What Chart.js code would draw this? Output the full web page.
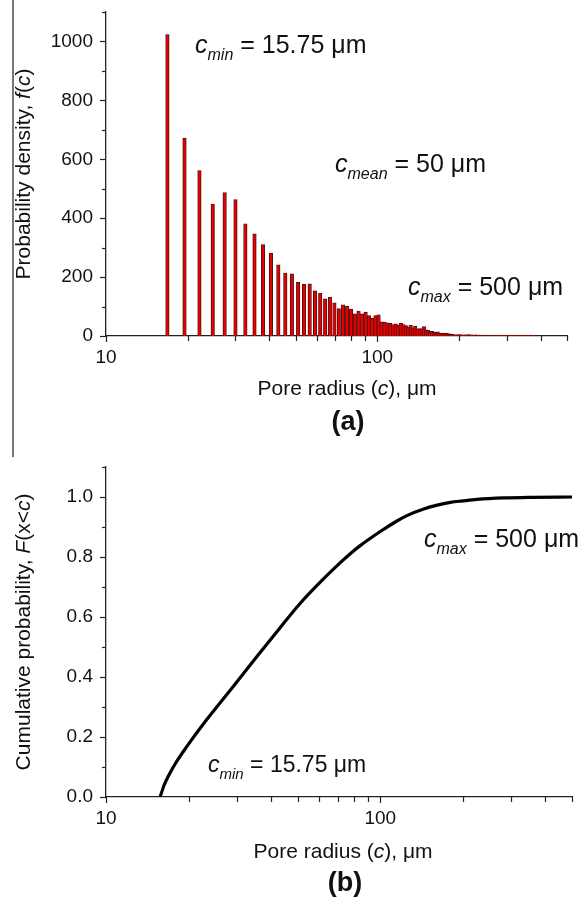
<!DOCTYPE html>
<html><head><meta charset="utf-8">
<script src="https://cdn.jsdelivr.net/npm/chart.js@4.4.0/dist/chart.umd.min.js"></script>
<style>
html,body{margin:0;padding:0;background:#fff;}
#wrap{position:relative;width:582px;height:903px;overflow:hidden;background:#fff;}
#c1{position:absolute;left:0;top:0;}
#c2{position:absolute;left:0;top:460px;}
#sep{position:absolute;left:12px;top:0;width:1.5px;height:457px;background:#777;}
</style></head><body>
<div id="wrap"><div id="sep"></div>
<canvas id="c1" width="582" height="460"></canvas>
<canvas id="c2" width="582" height="443"></canvas></div>
<script>
// ---- data ----
const poreRadius = [16.84,19.47,22.10,24.74,27.37,30.00,32.63,35.26,37.90,40.53,43.16,45.79,48.42,
 51.06,53.69,56.32,58.95,61.58,64.22,66.85,69.48,72.11,74.74,77.38,80.01,82.64,85.27,87.90,90.54,93.17,95.80,98.43,101.06,
 103.70,106.33,108.96,111.59,114.22,116.86,119.49,122.12,124.75,127.38,130.02,132.65,135.28,137.91,140.54,143.18,145.81,148.44,
 151.07,153.70,156.34,158.97,161.60,164.23,166.86,169.50,172.13,174.76,177.39,180.02,182.66,185.29,187.92,190.55,193.18,195.82,
 198.4,201.1,203.7,206.3,209.0,211.6,214.2,216.9,219.5,222.1,224.8,227.4,230.0,232.7,235.3,237.9,240.6,243.2,245.8,248.5,
 251.1,253.7,256.4,259.0,261.6,264.3,266.9,269.6,272.2,274.8,277.4,280.1,282.7,285.3,288.0,290.6,293.2,295.9,298.5,301.1,
 303.8,306.4,309.1,311.7,314.3,317.0,319.6,322.2,324.9,327.5,330.1,332.8,335.4,338.0,340.7,343.3,345.9,348.6,351.2,353.8,
 356.5,359.1,361.7,364.4,367.0,369.6,372.3,374.9,377.5,380.2,382.8];
const density = [1023,672,562,448,487,463,381,347,310,281,242,214,211,
 182,176,177,153,145,126,132,113,93,106,102,91,75,85,75,81,69,60,69,72,
 48,47,45,43,39,41,36,43,39,35,30,36,28,33,24,25,24,32,21,19,15,16,13,11,14,10,9,10,8,9,7,7,6,5,4,4,
 4,5,4,3,4,4,3,5,3,4,2,3,4,3,2,3,3,2,2,3,2,2,3,2,0,2,2,3,2,0,2,
 3,0,2,2,0,3,0,2,0,0,3,0,2,0,0,3,0,0,2,0,0,0,3,0,0,0,2,0,0,0,0,3,0,0,0,0,0,2,0,0];

const cdfRadius = [15.75,16.3,17.0,18.0,19.7,23.3,29.2,35.5,43.2,51.0,60.4,71.5,77.7,84.5,100,115,125,144,160,180,200,225,282,355,500];
const cdfValue  = [0,0.04,0.075,0.115,0.168,0.258,0.37,0.468,0.565,0.645,0.716,0.781,0.811,0.838,0.885,0.92,0.938,0.96,0.972,0.982,0.987,0.992,0.997,0.999,1.0];

const xTickValues = [10,20,30,40,50,60,70,80,90,100,200,300,400,500];
const xTickLabels = {10:'10',100:'100'};
const densityTicks = [0,100,200,300,400,500,600,700,800,900,1000,1100];
const densityLabels = {0:'0',200:'200',400:'400',600:'600',800:'800',1000:'1000'};
const cdfTicks = [0,0.1,0.2,0.3,0.4,0.5,0.6,0.7,0.8,0.9,1.0,1.1];
const cdfLabels = {0:'0.0',0.2:'0.2',0.4:'0.4',0.6:'0.6',0.8:'0.8',1:'1.0'};

// ---- helpers ----
const FAM = '"Liberation Sans", Arial, sans-serif';
const AX = '#222';
function rich(ctx, x, y, segs, align){
  let w = 0;
  segs.forEach(s=>{ ctx.font = (s.it?'italic ':'')+(s.b?'bold ':'')+s.sz+'px '+FAM; s._w = ctx.measureText(s.t).width; w += s._w; });
  let cx = align==='center' ? x - w/2 : x;
  segs.forEach(s=>{ ctx.font = (s.it?'italic ':'')+(s.b?'bold ':'')+s.sz+'px '+FAM; ctx.fillText(s.t, cx, y + (s.dy||0)); cx += s._w; });
}
function setTicks(values){ return function(scale){ scale.ticks = values.map(v=>({value:v})); }; }

const tickPlugin = {
  id:'tickmarks',
  afterDraw(chart, args, opts){
    const ctx = chart.ctx, ca = chart.chartArea;
    const xs = chart.scales.x, ys = chart.scales.y;
    ctx.save();
    ctx.strokeStyle = AX; ctx.lineWidth = 1.2;
    xs.ticks.forEach(t=>{
      const p = Math.round(xs.getPixelForValue(t.value))+0.5;
      const len = opts.xMajor.includes(t.value) ? 6 : 5;
      ctx.beginPath(); ctx.moveTo(p, ca.bottom); ctx.lineTo(p, ca.bottom+len); ctx.stroke();
    });
    ys.ticks.forEach(t=>{
      const p = Math.round(ys.getPixelForValue(t.value))+0.5;
      const len = opts.yMajor(t.value) ? 6 : 4;
      ctx.beginPath(); ctx.moveTo(ca.left, p); ctx.lineTo(ca.left-len, p); ctx.stroke();
    });
    ctx.restore();
    opts.text(ctx, chart);
  }
};

function baseScales(yTicks, yLabels, yMax, padLeft, xHeight){
  return {
    x:{type:'logarithmic', min:10, max:500,
       afterBuildTicks:setTicks(xTickValues),
       afterFit:s=>{s.height = xHeight; s.paddingLeft = 0; s.paddingRight = 0;},
       grid:{display:false, drawTicks:false},
       border:{display:true, color:AX, width:1.3},
       ticks:{autoSkip:false, maxRotation:0, padding:10, color:'#111',
              font:{family:FAM, size:19},
              callback:(v)=> xTickLabels[v] || ''}},
    y:{type:'linear', min:0, max:yMax,
       afterBuildTicks:setTicks(yTicks),
       afterFit:s=>{s.width = padLeft; s.paddingTop = 0; s.paddingBottom = 0;},
       grid:{display:false, drawTicks:false},
       border:{display:true, color:AX, width:1.3},
       ticks:{autoSkip:false, padding:13, color:'#111', font:{family:FAM, size:19},
              callback:(v)=> { const k = Math.round(v*1000)/1000; return (yLabels[k]!==undefined)? yLabels[k] : ''; }}}
  };
}

// ---- chart (a) ----
const barData = poreRadius.map((c,i)=>({x:c, y:density[i]})).filter(d=>d.y>0);
new Chart(document.getElementById('c1'), {
  type:'bar',
  data:{datasets:[{data:barData, backgroundColor:'#e20000', borderColor:'#4a1010',
        borderWidth:0.9, borderSkipped:'start', barThickness:3.5}]},
  options:{
    responsive:false, animation:false,
    layout:{padding:{left:0, right:15, top:12, bottom:0}},
    plugins:{legend:{display:false}, tooltip:{enabled:false},
      tickmarks:{
        xMajor:[10,100],
        yMajor:v=> Math.round(v)%200===0,
        text:(ctx, chart)=>{
          ctx.save(); ctx.fillStyle='#111'; ctx.textBaseline='alphabetic';
          rich(ctx, 195, 53, [{t:'c',it:true,sz:25},{t:'min',it:true,sz:16,dy:7},{t:' = 15.75 \u03bcm',sz:25}]);
          rich(ctx, 335, 172, [{t:'c',it:true,sz:25},{t:'mean',it:true,sz:16,dy:7},{t:' = 50 \u03bcm',sz:25}]);
          rich(ctx, 408, 295, [{t:'c',it:true,sz:25},{t:'max',it:true,sz:16,dy:7},{t:' = 500 \u03bcm',sz:25}]);
          ctx.textBaseline='middle';
          rich(ctx, 347, 389, [{t:'Pore radius (',sz:21},{t:'c',it:true,sz:21},{t:'), \u03bcm',sz:21}], 'center');
          rich(ctx, 348, 423, [{t:'(a)',b:true,sz:27}], 'center');
          ctx.translate(24, 174); ctx.rotate(-Math.PI/2);
          rich(ctx, 0, 0, [{t:'Probability density, ',sz:21},{t:'f',it:true,sz:21},{t:'(',sz:21},{t:'c',it:true,sz:21},{t:')',sz:21}], 'center');
          ctx.restore();
        }}},
    scales: baseScales(densityTicks, densityLabels, 1100, 106, 124)
  },
  plugins:[tickPlugin]
});

// ---- chart (b) ----
const cdfData = cdfRadius.map((c,i)=>({x:c, y:cdfValue[i]}));
new Chart(document.getElementById('c2'), {
  type:'line',
  data:{datasets:[{data:cdfData, borderColor:'#000', borderWidth:3.2, pointRadius:0,
        cubicInterpolationMode:'monotone', fill:false}]},
  options:{
    responsive:false, animation:false,
    layout:{padding:{left:0, right:10, top:7, bottom:0}},
    plugins:{legend:{display:false}, tooltip:{enabled:false},
      tickmarks:{
        xMajor:[10,100],
        yMajor:v=> Math.round(v*10)%2===0,
        text:(ctx, chart)=>{
          ctx.save(); ctx.fillStyle='#111'; ctx.textBaseline='alphabetic';
          rich(ctx, 424, 87, [{t:'c',it:true,sz:25},{t:'max',it:true,sz:16,dy:7},{t:' = 500 \u03bcm',sz:25}]);
          rich(ctx, 208, 312, [{t:'c',it:true,sz:23},{t:'min',it:true,sz:15,dy:7},{t:' = 15.75 \u03bcm',sz:23}]);
          ctx.textBaseline='middle';
          rich(ctx, 343, 392, [{t:'Pore radius (',sz:21},{t:'c',it:true,sz:21},{t:'), \u03bcm',sz:21}], 'center');
          rich(ctx, 345, 424, [{t:'(b)',b:true,sz:27}], 'center');
          ctx.translate(24, 172); ctx.rotate(-Math.PI/2);
          rich(ctx, 0, 0, [{t:'Cumulative probability, ',sz:21},{t:'F',it:true,sz:21},{t:'(x<',sz:21},{t:'c',it:true,sz:21},{t:')',sz:21}], 'center');
          ctx.restore();
        }}},
    scales: baseScales(cdfTicks, cdfLabels, 1.1, 106, 106)
  },
  plugins:[tickPlugin]
});
</script>
</body></html>
